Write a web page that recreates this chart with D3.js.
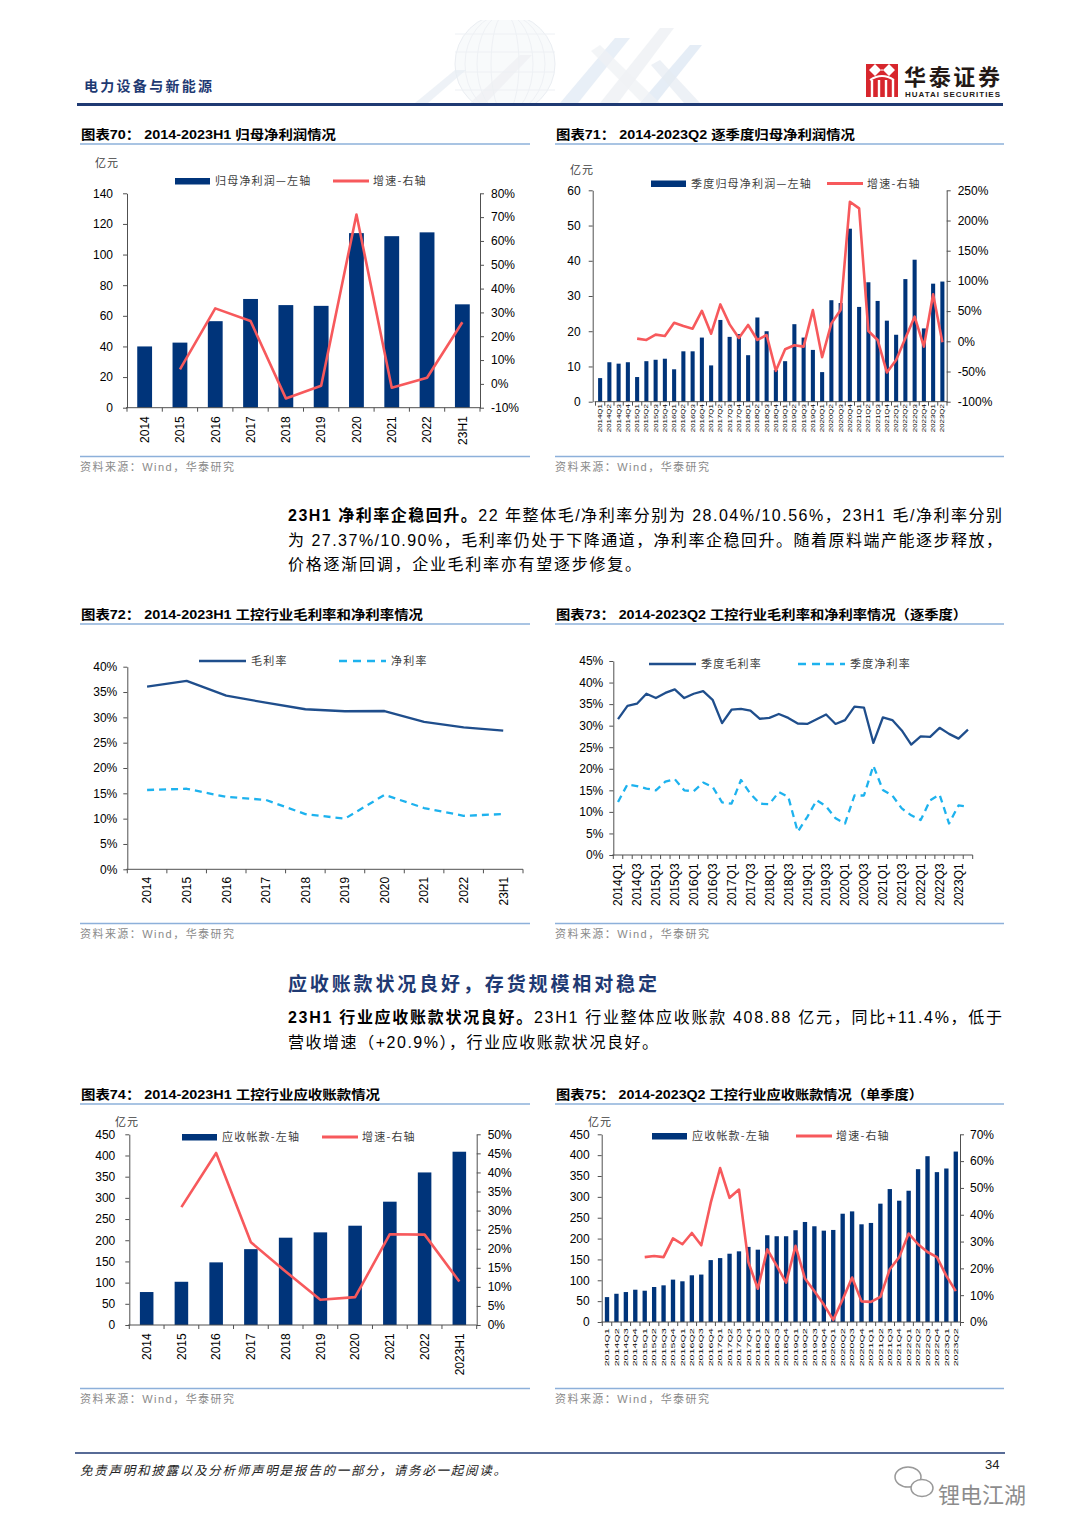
<!DOCTYPE html>
<html><head><meta charset="utf-8">
<script src="https://cdn.jsdelivr.net/npm/d3@7"></script>
<style>
body{margin:0;background:#fff;}
svg text{font-family:'Liberation Sans',Arial,'Noto Sans CJK SC',sans-serif;}
</style></head>
<body><div id="c"></div>
<script>
// ---------------- DATA ----------------
const years = ['2014','2015','2016','2017','2018','2019','2020','2021','2022','23H1'];
const years74 = ['2014','2015','2016','2017','2018','2019','2020','2021','2022','2023H1'];
const quarters = ['2014Q1','2014Q2','2014Q3','2014Q4','2015Q1','2015Q2','2015Q3','2015Q4',
 '2016Q1','2016Q2','2016Q3','2016Q4','2017Q1','2017Q2','2017Q3','2017Q4',
 '2018Q1','2018Q2','2018Q3','2018Q4','2019Q1','2019Q2','2019Q3','2019Q4',
 '2020Q1','2020Q2','2020Q3','2020Q4','2021Q1','2021Q2','2021Q3','2021Q4',
 '2022Q1','2022Q2','2022Q3','2022Q4','2023Q1','2023Q2'];

// 图表70
const profit70 = [40,42.5,56.5,71,67,66.5,114,112,114.5,67.5];
const growth70 = [null,6.1,31.7,26.4,-6.1,-0.8,71.1,-1.6,2.6,25.9];
const ticksL70 = [0,20,40,60,80,100,120,140];
const ticksR70 = [-10,0,10,20,30,40,50,60,70,80];

// 图表71
const profit71 = [6.7,11.2,10.8,11.2, 7.0,11.5,11.9,12.2, 9.2,14.3,14.3,18.2, 10.3,23.2,18.4,19.2,
 13.2,23.9,20.0,9.0, 11.5,22.0,18.2,14.7, 8.4,28.8,28.0,49.1, 26.9,33.9,28.6,23.0,
 19.0,34.8,40.3,20.8, 33.5,34.1];
const growth71 = [null,null,null,null, 4.4,2.2,11,8.8, 30.8,25.3,20.9,50.5, 12.6,61,28,5.5,
 27,2.2,10.4,-48.9, -13.2,-6.6,-8.8,51.6, -26.4,29.7,52,231, 220,17,2.2,-51.6,
 -30.8,4.9,40.7,-8.8, 77.8,-1.6];
const ticksL71 = [0,10,20,30,40,50,60];
const ticksR71 = [-100,-50,0,50,100,150,200,250];

// 图表72
const gross72 = [36.05,37.2,34.3,32.9,31.6,31.2,31.25,29.1,28.04,27.37];
const net72 = [15.66,15.9,14.3,13.7,10.9,10.0,14.7,12.1,10.56,10.9];
const ticks72 = [0,5,10,15,20,25,30,35,40];

// 图表73
const gross73 = [31.5,34.6,35.1,37.4, 36.4,37.6,38.4,36.4, 37.4,38.0,36.0,30.6, 33.7,33.9,33.5,31.6,
 31.8,32.7,31.8,30.5, 30.4,31.5,32.6,30.4, 31.3,34.4,34.2,26.0, 31.9,31.3,28.9,25.6,
 27.5,27.4,29.5,28.1, 27.0,29.1];
const net73 = [12.3,16.4,16.0,15.4, 15.0,17.0,17.6,15.0, 14.8,16.8,15.8,12.2, 11.9,17.4,14.2,11.9,
 11.8,14.6,13.5,5.4, 8.8,12.7,11.3,8.5, 7.3,13.8,13.8,20.7, 15.1,13.8,10.8,9.2,
 8.1,12.7,14.0,7.3, 11.5,11.2];
const ticks73 = [0,5,10,15,20,25,30,35,40,45];

// 图表74
const recv74 = [77.8,102,147.8,179,206,218.6,234.3,291,360,408.88];
const growth74 = [null,30.9,45.1,21.7,14.0,6.6,7.3,23.8,23.7,11.4];
const ticksL74 = [0,50,100,150,200,250,300,350,400,450];
const ticksR74 = [0,5,10,15,20,25,30,35,40,45,50];

// 图表75
const recv75 = [59.7,67.7,71.8,77.4, 75,83.9,87.9,101.6, 97.6,112,113.7,148.4, 153.2,163.7,169.4,180,
 173.4,208,205.6,205.6, 220,239.8,229.5,219, 220.7,259.6,265.2,234.2, 237.5,283.7,318.7,290.8,
 314.7,366.4,397.5,359.3, 368,408.6];
const growth75 = [null,null,null,null, 24.2,24.6,24.2,31.2, 29.0,33.2,28.6,44.4, 57.4,46.3,49.4,22.3,
 12.4,27.1,21,14.7, 28.4,16.2,11.5,6.5, 0.8,8.4,16.6,7.7, 7.5,9.4,19.7,24.2,
 33.0,29,26.1,24.2, 17.2,11.5];
const ticksL75 = [0,50,100,150,200,250,300,350,400,450];
const ticksR75 = [0,10,20,30,40,50,60,70];

// ---------------- STYLE ----------------
const NAVY='#00347A', RED='#F7595C', AX='#505050', DBLUE='#1F4E8C', CYAN='#1DB2EE', HEAD='#1F3A73';
const NUM="'Liberation Sans',Arial,sans-serif";
const CJK="'Noto Sans CJK SC',sans-serif";

const svg = d3.select('#c').append('svg').attr('width',1080).attr('height',1527);
svg.append('rect').attr('width',1080).attr('height',1527).attr('fill','#fff');

// ---------------- HEADER ----------------
const deco = svg.append('g').attr('opacity',0.55);
const clip = svg.append('defs').append('clipPath').attr('id','hc');
clip.append('rect').attr('x',380).attr('y',20).attr('width',400).attr('height',83);
const dg = deco.append('g').attr('clip-path','url(#hc)');
dg.append('circle').attr('cx',505).attr('cy',64).attr('r',50).attr('fill','#f4f6f9').attr('stroke','#d9e0e8').attr('stroke-width',1);
[14,28,40].forEach(rx=>dg.append('ellipse').attr('cx',505).attr('cy',64).attr('rx',rx).attr('ry',50).attr('fill','none').attr('stroke','#e0e6ec'));
[-30,-12,8,26].forEach(dy=>dg.append('line').attr('x1',455).attr('x2',555).attr('y1',64+dy).attr('y2',64+dy).attr('stroke','#e0e6ec'));
const polys = [
 ['415,103 455,70 466,70 428,103','#d4dfeb'],
 ['470,103 520,55 532,55 486,103','#dfe4ea'],
 ['560,103 615,38 630,38 578,103','#c4d6eb'],
 ['600,103 660,28 674,28 618,103','#dde2e8'],
 ['640,103 690,45 702,45 656,103','#bdd2ea'],
 ['660,103 600,45 591,51 642,103','#e3e7ec'],
 ['700,103 660,60 651,65 684,103','#d2dce8']
];
polys.forEach(p=>dg.append('polygon').attr('points',p[0]).attr('fill',p[1]).attr('opacity',0.7));

svg.append('text').attr('x',84).attr('y',91).attr('textLength',128).attr('lengthAdjust','spacing')
 .style('font-family',CJK).style('font-size','14px').style('font-weight',700).attr('fill',HEAD).text('电力设备与新能源');
svg.append('rect').attr('x',77).attr('y',103).attr('width',926).attr('height',3).attr('fill',HEAD);

// logo
const lg = svg.append('g');
lg.append('rect').attr('x',866).attr('y',64).attr('width',32).attr('height',33).attr('fill','#D7262D');
lg.append('path').attr('d','M869,70 L875,64 L882,71 L889,64 L895,70 L889,76 L882,69 L875,76 Z').attr('fill','#fff');
[872,879,886,893].forEach(xx=>lg.append('rect').attr('x',xx-1.2).attr('y',80).attr('width',2.4).attr('height',17).attr('fill','#fff'));
lg.append('path').attr('d','M870,80 Q882,72 894,80').attr('fill','none').attr('stroke','#fff').attr('stroke-width',2);
svg.append('text').attr('x',904).attr('y',85).style('font-family',CJK).style('font-size','22px').style('font-weight',700)
 .attr('fill','#231815').attr('textLength',96).text('华泰证券');
svg.append('text').attr('x',905).attr('y',97).style('font-family',NUM).style('font-size','8px').style('font-weight',700)
 .attr('fill','#231815').attr('textLength',95).text('HUATAI SECURITIES');

// ---------------- HELPERS ----------------
function titleBlock(x, y, w, txt, tl, lineY, srcLineY, srcY){
  svg.append('text').attr('x',x+1).attr('y',y+4.5).attr('textLength',tl).attr('lengthAdjust','spacingAndGlyphs')
   .style('font-size','13px').style('font-weight',700).attr('fill','#000').text(txt);
  svg.append('line').attr('x1',x).attr('x2',x+w).attr('y1',lineY).attr('y2',lineY).attr('stroke','#8DB0DA').attr('stroke-width',1.5);
  svg.append('line').attr('x1',x).attr('x2',x+w).attr('y1',srcLineY).attr('y2',srcLineY).attr('stroke','#8DB0DA').attr('stroke-width',1.5);
  svg.append('text').attr('x',x).attr('y',srcY+4).attr('textLength',154).attr('lengthAdjust','spacing')
   .style('font-size','11px').attr('fill','#8a8a8a').text('资料来源：Wind，华泰研究');
}
function styleAxis(sel){
  sel.attr('color',AX).attr('font-size',12).attr('font-family',NUM);
  sel.selectAll('.tick text').attr('fill','#000');
}
function legText(g,x,y,t){
  g.append('text').attr('x',x).attr('y',y+4).style('font-family',CJK).style('font-size','11px')
   .style('letter-spacing','1.2px').attr('fill','#404040').text(t);
}
function unitLabel(g,x,y){
  g.append('text').attr('x',x).attr('y',y+4).style('font-family',CJK).style('font-size','11px')
   .style('letter-spacing','1px').attr('fill','#404040').text('亿元');
}
function bottomAxis(g, x, y, o){
  const [a,b] = x.range();
  g.append('line').attr('x1',a-1).attr('x2',b).attr('y1',y).attr('y2',y).attr('stroke',AX);
  const step = x.step();
  g.selectAll(null).data(d3.range(x.domain().length+1)).join('line')
   .attr('x1',i=>a+i*step).attr('x2',i=>a+i*step).attr('y1',y).attr('y2',y+4).attr('stroke',AX);
  g.selectAll(null).data(x.domain().filter((d,i)=>i%o.every===0)).join('text')
   .attr('transform',d=>`translate(${x(d)+x.bandwidth()/2},${y+o.lblOff}) rotate(-90) scale(1,${o.lblSx})`)
   .attr('text-anchor','end').attr('dy','0.36em').style('font-size',o.lblFs+'px').attr('fill','#000').text(d=>d);
}
function dualChart(o){
  const g = svg.append('g');
  const x = d3.scaleBand().domain(o.cats).range([o.x0,o.x1]);
  const yL = d3.scaleLinear().domain(o.lDom).range([o.yB,o.yT]);
  const yR = d3.scaleLinear().domain(o.rDom).range([o.yB,o.yT]);
  g.selectAll(null).data(o.bars).join('rect')
   .attr('x',(d,i)=>x(o.cats[i])+x.bandwidth()*(1-o.barR)/2)
   .attr('width',x.bandwidth()*o.barR)
   .attr('y',d=>yL(d)).attr('height',d=>yL(0)-yL(d)).attr('fill',NAVY);
  g.append('g').attr('transform',`translate(${o.axL},0)`)
   .call(d3.axisLeft(yL).tickValues(o.lTicks).tickSize(4).tickSizeOuter(0).tickPadding(o.lPad)).call(styleAxis);
  g.append('g').attr('transform',`translate(${o.axR},0)`)
   .call(d3.axisRight(yR).tickValues(o.rTicks).tickSize(4).tickSizeOuter(0).tickPadding(o.rPad).tickFormat(d=>d+'%')).call(styleAxis);
  bottomAxis(g,x,o.yB,o);
  const line = d3.line().defined(d=>d!=null).x((d,i)=>x(o.cats[i])+x.bandwidth()/2).y(d=>yR(d));
  g.append('path').datum(o.line).attr('d',line).attr('fill','none').attr('stroke',RED)
   .attr('stroke-width',2.6).attr('stroke-linejoin','round');
  const L = o.leg;
  g.append('rect').attr('x',L.rx).attr('y',L.y-3).attr('width',35).attr('height',6.5).attr('fill',NAVY);
  legText(g,L.rx+40,L.y,L.t1);
  g.append('line').attr('x1',L.lx).attr('x2',L.lx+36).attr('y1',L.y).attr('y2',L.y).attr('stroke',RED).attr('stroke-width',3);
  legText(g,L.lx+40,L.y,L.t2);
  unitLabel(g,o.unit[0],o.unit[1]);
}
function lineChart(o){
  const g = svg.append('g');
  const x = d3.scaleBand().domain(o.cats).range([o.x0,o.x1]);
  const y = d3.scaleLinear().domain(o.dom).range([o.yB,o.yT]);
  g.append('g').attr('transform',`translate(${o.axL},0)`)
   .call(d3.axisLeft(y).tickValues(o.ticks).tickSize(4).tickSizeOuter(0).tickPadding(o.lPad).tickFormat(d=>d+'%')).call(styleAxis);
  bottomAxis(g,x,o.yB,o);
  const line = d3.line().x((d,i)=>x(o.cats[i])+x.bandwidth()/2).y(d=>y(d));
  g.append('path').datum(o.s1).attr('d',line).attr('fill','none').attr('stroke',DBLUE).attr('stroke-width',2.3).attr('stroke-linejoin','round');
  g.append('path').datum(o.s2).attr('d',line).attr('fill','none').attr('stroke',CYAN).attr('stroke-width',2.3)
   .attr('stroke-dasharray','7,5').attr('stroke-linejoin','round');
  const L = o.leg;
  g.append('line').attr('x1',L.ax).attr('x2',L.ax+47).attr('y1',L.y).attr('y2',L.y).attr('stroke',DBLUE).attr('stroke-width',2.5);
  legText(g,L.ax+52,L.y,L.t1);
  g.append('line').attr('x1',L.bx).attr('x2',L.bx+47).attr('y1',L.y).attr('y2',L.y).attr('stroke',CYAN).attr('stroke-width',2.5).attr('stroke-dasharray','8,6');
  legText(g,L.bx+52,L.y,L.t2);
}

// ---------------- TITLES ----------------
titleBlock(80,134,450,'图表70：  2014-2023H1 归母净利润情况',255,144,456.5,467);
titleBlock(555,134,449,'图表71：  2014-2023Q2 逐季度归母净利润情况',299,144,456.5,467);
titleBlock(80,614,450,'图表72：  2014-2023H1 工控行业毛利率和净利率情况',342,624,923.5,934);
titleBlock(555,614,449,'图表73：  2014-2023Q2 工控行业毛利率和净利率情况（逐季度）',411,624,923.5,934);
titleBlock(80,1094,450,'图表74：  2014-2023H1 工控行业应收账款情况',299,1104,1388.5,1399);
titleBlock(555,1094,449,'图表75：  2014-2023Q2 工控行业应收账款情况（单季度）',367,1104,1388.5,1399);

// ---------------- CHARTS ----------------
dualChart({cats:years,bars:profit70,line:growth70,x0:127,x1:480,axL:127,axR:480,yB:407.7,yT:193.3,
 lDom:[0,140],rDom:[-10,80],lTicks:ticksL70,rTicks:ticksR70,lPad:10,rPad:7,barR:0.42,
 every:1,lblOff:8.5,lblSx:1,lblFs:12,
 leg:{rx:175,lx:333,y:181,t1:'归母净利润—左轴',t2:'增速-右轴'},unit:[95,163]});

dualChart({cats:quarters,bars:profit71,line:growth71,x0:595.5,x1:947,axL:592.7,axR:946.7,yB:401.7,yT:190.3,
 lDom:[0,60],rDom:[-100,250],lTicks:ticksL71,rTicks:ticksR71,lPad:8,rPad:7,barR:0.44,
 every:1,lblOff:2.5,lblSx:0.7,lblFs:7.9,
 leg:{rx:651,lx:827,y:183.5,t1:'季度归母净利润—左轴',t2:'增速-右轴'},unit:[570,170]});

lineChart({cats:years,s1:gross72,s2:net72,x0:127.3,x1:523,axL:127.3,yB:869.3,yT:666.7,dom:[0,40],ticks:ticks72,
 lPad:6,every:1,lblOff:7.5,lblSx:1,lblFs:12,
 leg:{ax:199,bx:339,y:661,t1:'毛利率',t2:'净利率'}});

lineChart({cats:quarters,s1:gross73,s2:net73,x0:613.3,x1:972.7,axL:613.3,yB:855,yT:661,dom:[0,45],ticks:ticks73,
 lPad:6,every:2,lblOff:8.3,lblSx:1,lblFs:12,
 leg:{ax:649,bx:798,y:664,t1:'季度毛利率',t2:'季度净利率'}});

dualChart({cats:years74,bars:recv74,line:growth74,x0:129.3,x1:476.7,axL:129.3,axR:476.7,yB:1325,yT:1134.3,
 lDom:[0,450],rDom:[0,50],lTicks:ticksL74,rTicks:ticksR74,lPad:10,rPad:7,barR:0.39,
 every:1,lblOff:8.3,lblSx:1,lblFs:12,
 leg:{rx:182,lx:322,y:1137,t1:'应收帐款-左轴',t2:'增速-右轴'},unit:[115,1122]});

dualChart({cats:quarters,bars:recv75,line:growth75,x0:602.3,x1:960.5,axL:601.7,axR:960,yB:1322,yT:1134.3,
 lDom:[0,450],rDom:[0,70],lTicks:ticksL75,rTicks:ticksR75,lPad:8,rPad:6,barR:0.46,
 every:1,lblOff:6.3,lblSx:0.56,lblFs:10.7,
 leg:{rx:652,lx:796,y:1136,t1:'应收帐款-左轴',t2:'增速-右轴'},unit:[588,1122]});

// ---------------- BODY TEXT ----------------
function para(y, parts, tl){
  const t = svg.append('text').attr('x',288).attr('y',y).style('font-size','16px').attr('fill','#000');
  if(tl){ t.attr('textLength',tl).attr('lengthAdjust','spacing'); }
  parts.forEach(p=>t.append('tspan').style('font-weight',p[1]?700:400).text(p[0]));
}
para(521,[['23H1 净利率企稳回升。',1],['22 年整体毛/净利率分别为 28.04%/10.56%，23H1 毛/净利率分别',0]],714);
para(546,[['为 27.37%/10.90%，毛利率仍处于下降通道，净利率企稳回升。随着原料端产能逐步释放，',0]],714);
para(570,[['价格逐渐回调，企业毛利率亦有望逐步修复。',0]],353);

svg.append('text').attr('x',288).attr('y',991).attr('textLength',369).attr('lengthAdjust','spacing')
 .style('font-family',CJK).style('font-size','19px').style('font-weight',700).attr('fill',HEAD)
 .text('应收账款状况良好，存货规模相对稳定');

para(1023,[['23H1 行业应收账款状况良好。',1],['23H1 行业整体应收账款 408.88 亿元，同比+11.4%，低于',0]],714);
para(1048,[['营收增速（+20.9%），行业应收账款状况良好。',0]],370);

// ---------------- FOOTER ----------------
svg.append('line').attr('x1',75).attr('x2',1005).attr('y1',1453).attr('y2',1453).attr('stroke',HEAD).attr('stroke-width',1.5);
svg.append('text').attr('x',80).attr('y',1474.5).attr('textLength',426).attr('lengthAdjust','spacing')
 .style('font-size','12.5px').style('font-style','italic').attr('fill','#222')
 .text('免责声明和披露以及分析师声明是报告的一部分，请务必一起阅读。');
svg.append('text').attr('x',985).attr('y',1469).style('font-size','13px').attr('fill','#222').text('34');
// watermark
const wm = svg.append('g').attr('opacity',0.75);
wm.append('ellipse').attr('cx',908).attr('cy',1477).attr('rx',13).attr('ry',10).attr('fill','none').attr('stroke','#777').attr('stroke-width',1.5);
wm.append('ellipse').attr('cx',922).attr('cy',1488).attr('rx',11).attr('ry',8.5).attr('fill','#fff').attr('stroke','#777').attr('stroke-width',1.5);
wm.append('text').attr('x',938).attr('y',1503).style('font-family',CJK).style('font-size','22px').attr('fill','#666').text('锂电江湖');
</script>
</body></html>
